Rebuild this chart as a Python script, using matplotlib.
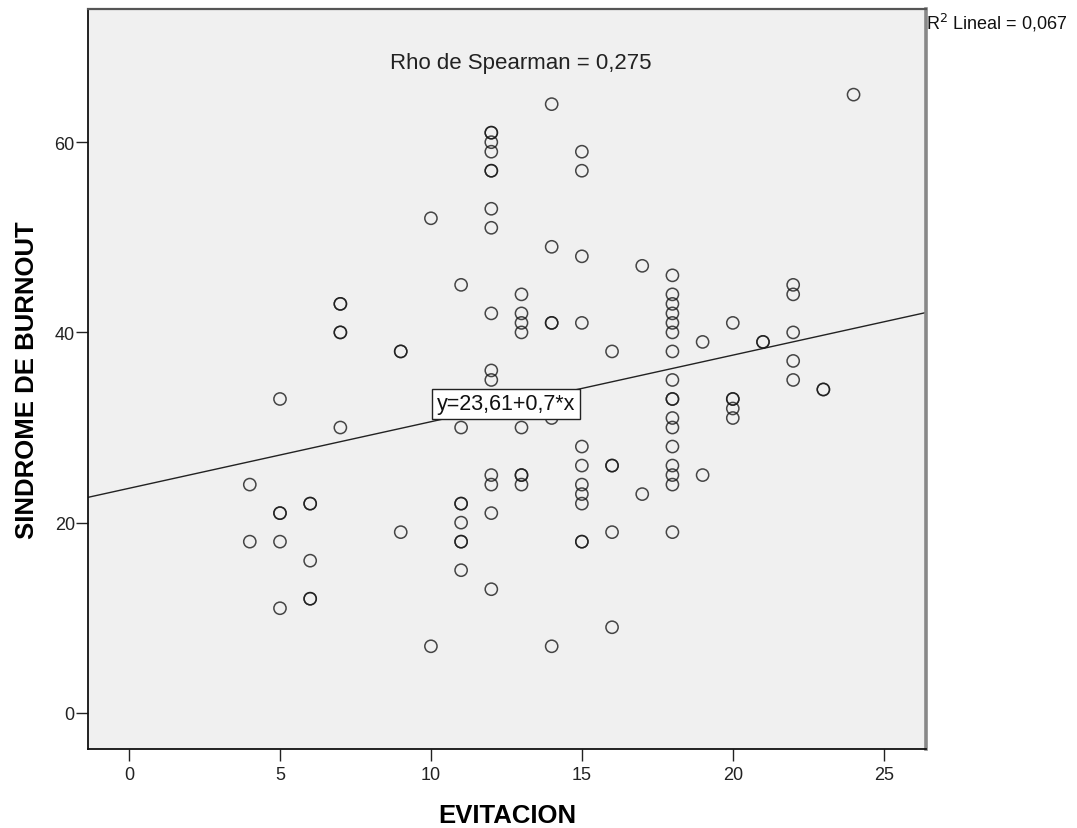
import matplotlib
matplotlib.use("Agg")
import matplotlib.pyplot as plt
import numpy as np

plt.rcParams["font.family"] = ["Liberation Sans", "DejaVu Sans"]

# EVITACION (x) and SINDROME DE BURNOUT (y), one pair per case
evitacion = (
    [4] * 2 + [5] * 5 + [6] * 5 + [7] * 5 + [9] * 3 + [10] * 2 + [11] * 8
    + [12] * 15 + [13] * 8 + [14] * 6 + [15] * 11 + [16] * 5 + [17] * 2
    + [18] * 17 + [19] * 2 + [20] * 5 + [21] * 2 + [22] * 5 + [23] * 2 + [24]
)
burnout = [
    24, 18,
    33, 21, 21, 18, 11,
    22, 22, 16, 12, 12,
    43, 43, 40, 40, 30,
    38, 38, 19,
    52, 7,
    45, 30, 22, 22, 20, 18, 18, 15,
    61, 61, 60, 59, 57, 57, 53, 51, 42, 36, 35, 25, 24, 21, 13,
    44, 42, 41, 40, 30, 25, 25, 24,
    64, 49, 41, 41, 31, 7,
    59, 57, 48, 41, 28, 26, 24, 23, 22, 18, 18,
    38, 26, 26, 19, 9,
    47, 23,
    46, 44, 43, 42, 41, 40, 38, 35, 33, 33, 31, 30, 28, 26, 25, 24, 19,
    39, 25,
    41, 33, 33, 32, 31,
    39, 39,
    45, 44, 40, 37, 35,
    34, 34,
    65,
]

fit_intercept = 23.61
fit_slope = 0.7
rho_text = "Rho de Spearman = 0,275"
r2_text = "R$^2$ Lineal = 0,067"
fit_label = "y=23,61+0,7*x"

x_ticks = [0, 5, 10, 15, 20, 25]
y_ticks = [0, 20, 40, 60]
x_lim = (-1.36, 26.4)
y_lim = (-3.8, 74.0)

fig = plt.figure(figsize=(10.77, 8.29), dpi=100)
ax = fig.add_axes([0.0817, 0.0953, 0.8598 - 0.0817, 0.9879 - 0.0953])
ax.set_facecolor("#f0f0f0")

ax.scatter(
    evitacion,
    burnout,
    s=8.8 ** 2,
    facecolors="none",
    edgecolors=(0.1, 0.1, 0.1, 0.8),
    linewidths=1.1,
    zorder=3,
)

xs = np.array(x_lim)
ax.plot(xs, fit_intercept + fit_slope * xs, color="#222222", linewidth=1.0, zorder=2)

ax.text(
    12.48, 32.5, fit_label,
    ha="center", va="center", fontsize=15.5, color="#111111", zorder=4,
    bbox=dict(boxstyle="square,pad=0.22", facecolor="white", edgecolor="#222222", linewidth=1.0),
)
ax.text(0.516, 0.928, rho_text, transform=ax.transAxes, ha="center", va="center",
        fontsize=16, color="#222222")
fig.text(926 / 1077, 1 - 12 / 829, r2_text, ha="left", va="top", fontsize=13, color="#111111")

ax.set_xlim(*x_lim)
ax.set_ylim(*y_lim)
ax.set_xticks(x_ticks)
ax.set_yticks(y_ticks)
ax.tick_params(direction="out", length=8.5, width=1.0, labelsize=13, colors="#222222")
ax.tick_params(axis="y", pad=1)
ax.tick_params(axis="x", pad=4)

for side in ("left", "bottom"):
    ax.spines[side].set_color("#111111")
    ax.spines[side].set_linewidth(1.3)
ax.spines["top"].set_color("#555555")
ax.spines["top"].set_linewidth(1.6)
ax.spines["right"].set_color("#888888")
ax.spines["right"].set_linewidth(2.6)

ax.set_xlabel("EVITACION", fontsize=18.5, fontweight="bold", labelpad=14)
ax.set_ylabel("SINDROME DE BURNOUT", fontsize=18.5, fontweight="bold", labelpad=11)

fig.savefig("out.png", dpi=100)
